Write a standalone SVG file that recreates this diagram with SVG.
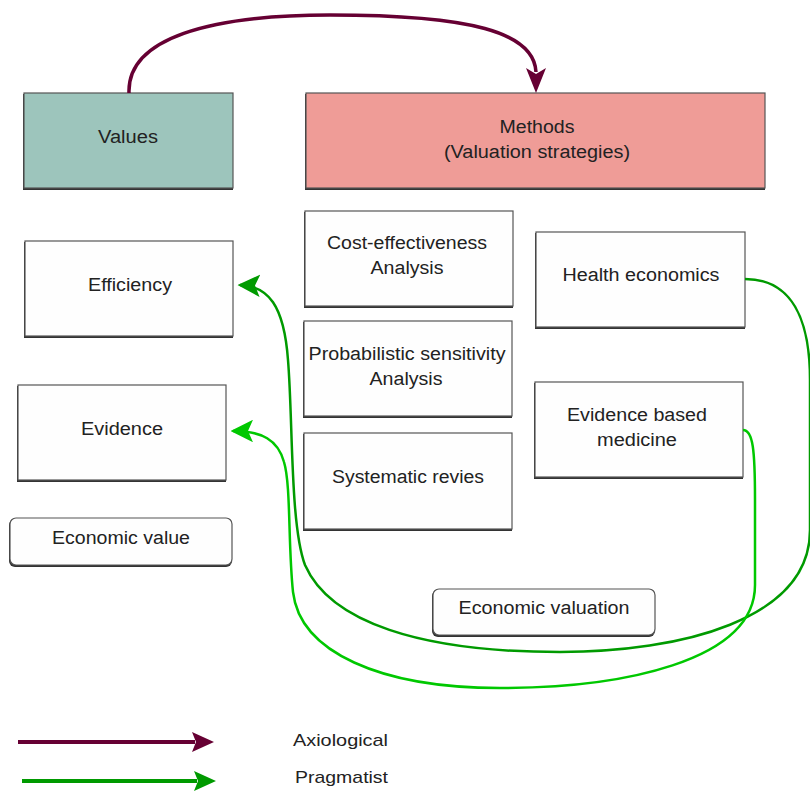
<svg xmlns="http://www.w3.org/2000/svg" width="810" height="792" viewBox="0 0 810 792">
<style>
text{font-family:"Liberation Sans",Arial,sans-serif;font-size:18px;fill:#222;text-anchor:middle}
.box{fill:#fefefe;stroke:#555;stroke-width:1.2}
.sh{fill:#333}
.ax{fill:none;stroke:#660033;stroke-width:3.5}
.dg{fill:none;stroke:#009a00;stroke-width:2.5}
.lg{fill:none;stroke:#00c800;stroke-width:2.5}
.lt{text-anchor:start;font-size:17px}
</style>
<defs>
<marker id="mDg" markerWidth="9" markerHeight="9" refX="8" refY="4.5" orient="auto" markerUnits="strokeWidth"><path d="M0,0 L9,4.5 L0,9 L2,4.5 Z" fill="#009a00"/></marker>
<marker id="mLg" markerWidth="9" markerHeight="9" refX="8" refY="4.5" orient="auto" markerUnits="strokeWidth"><path d="M0,0 L9,4.5 L0,9 L2,4.5 Z" fill="#00c800"/></marker>
</defs>
<rect width="810" height="792" fill="#ffffff"/>
<g id="values"><rect class="sh" x="23" y="94" width="210" height="96"/><rect x="24" y="93" width="209" height="95" fill="#9dc5bc" stroke="#555" stroke-width="1.2"/><text x="128" y="143" textLength="60" lengthAdjust="spacingAndGlyphs">Values</text></g>
<g id="methods"><rect class="sh" x="305" y="94" width="460" height="96"/><rect x="306" y="93" width="459" height="95" fill="#ef9c97" stroke="#555" stroke-width="1.2"/><text x="537" y="133" textLength="75" lengthAdjust="spacingAndGlyphs">Methods</text><text x="537" y="158" textLength="186" lengthAdjust="spacingAndGlyphs">(Valuation strategies)</text></g>
<g id="efficiency"><rect class="sh" x="24" y="242" width="209" height="96"/><rect class="box" x="25" y="241" width="208" height="95"/><text x="130" y="291" textLength="84" lengthAdjust="spacingAndGlyphs">Efficiency</text></g>
<g id="evidence"><rect class="sh" x="17" y="386" width="209" height="96"/><rect class="box" x="18" y="385" width="208" height="95"/><text x="122" y="435" textLength="82" lengthAdjust="spacingAndGlyphs">Evidence</text></g>
<g id="economic-value"><rect class="sh" x="9" y="519" width="223" height="48" rx="6"/><rect class="box" x="10" y="518" width="222" height="47" rx="6"/><text x="121" y="544" textLength="138" lengthAdjust="spacingAndGlyphs">Economic value</text></g>
<g id="cea"><rect class="sh" x="304" y="212" width="209" height="96"/><rect class="box" x="305" y="211" width="208" height="95"/><text x="407" y="249" textLength="160" lengthAdjust="spacingAndGlyphs">Cost-effectiveness</text><text x="407" y="274" textLength="73" lengthAdjust="spacingAndGlyphs">Analysis</text></g>
<g id="psa"><rect class="sh" x="303" y="322" width="209" height="96"/><rect class="box" x="304" y="321" width="208" height="95"/><text x="407" y="360" textLength="197" lengthAdjust="spacingAndGlyphs">Probabilistic sensitivity</text><text x="406" y="385" textLength="73" lengthAdjust="spacingAndGlyphs">Analysis</text></g>
<g id="sr"><rect class="sh" x="303" y="434" width="209" height="97"/><rect class="box" x="304" y="433" width="208" height="96"/><text x="408" y="483" textLength="152" lengthAdjust="spacingAndGlyphs">Systematic revies</text></g>
<g id="health-economics"><rect class="sh" x="535" y="233" width="210" height="96"/><rect class="box" x="536" y="232" width="209" height="95"/><text x="641" y="281" textLength="157" lengthAdjust="spacingAndGlyphs">Health economics</text></g>
<g id="ebm"><rect class="sh" x="534" y="383" width="209" height="96"/><rect class="box" x="535" y="382" width="208" height="95"/><text x="637" y="421" textLength="140" lengthAdjust="spacingAndGlyphs">Evidence based</text><text x="637" y="446" textLength="80" lengthAdjust="spacingAndGlyphs">medicine</text></g>
<g id="economic-valuation"><rect class="sh" x="432" y="590" width="223" height="47" rx="6"/><rect class="box" x="433" y="589" width="222" height="46" rx="6"/><text x="544" y="614" textLength="171" lengthAdjust="spacingAndGlyphs">Economic valuation</text></g>
<g id="connectors">
<path class="ax" d="M129,93 C127,38 210,15 330,15 C470,15 534,32 536,72"/>
<path d="M526,68 L536,74 L546,68 L536,93 Z" fill="#660033"/>
<path class="dg" d="M745,279 C792,279 810,320 810,380 L810,530 C810,620 680,652 560,652 C420,652 330,622 305,565 C290,525 293,420 288,360 C284,305 268,286 240,285" marker-end="url(#mDg)"/>
<path class="lg" d="M743,430 C753,430 755,450 755,500 L755,585 C755,662 620,688 500,688 C380,688 300,652 293,592 C288,545 291,485 284,462 C278,440 262,431 233,431" marker-end="url(#mLg)"/>
</g>
<g id="legend">
<path d="M18,742 L195,742" stroke="#660033" stroke-width="4"/><path d="M192,732 L214,742 L192,752 L196,742 Z" fill="#660033"/>
<path d="M22,781 L197,781" stroke="#009a00" stroke-width="4"/><path d="M194,771 L216,781 L194,791 L198,781 Z" fill="#009a00"/>
<text class="lt" x="293" y="746" textLength="95" lengthAdjust="spacingAndGlyphs">Axiological</text>
<text class="lt" x="295" y="783" textLength="93" lengthAdjust="spacingAndGlyphs">Pragmatist</text>
</g>
</svg>
